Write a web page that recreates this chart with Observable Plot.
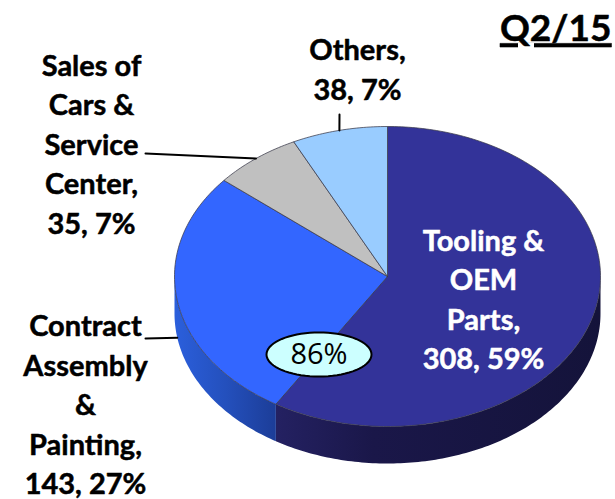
<!DOCTYPE html>
<html>
<head>
<meta charset="utf-8">
<script src="https://cdn.jsdelivr.net/npm/d3@7"></script>
<script src="https://cdn.jsdelivr.net/npm/@observablehq/plot@0.6"></script>
<style>
html,body{margin:0;padding:0;background:#fff}
svg{display:block}
.quarter text{text-decoration:underline;text-decoration-thickness:3px}
</style>
</head>
<body>
<div id="chart"></div>
<script>
const categories = ["Tooling &\nOEM\nParts", "Contract\nAssembly\n&\nPainting", "Sales of\nCars &\nService\nCenter", "Others"];
const values = [308, 143, 35, 38];
const shares = [59, 27, 7, 7];
const quarter = "Q2/15";
const insideShare = "86%";

const topColors = ["#333399", "#3366ff", "#c0c0c0", "#99ccff"];
const sideFills = ["url(#sideDark)", "url(#sideBlue)"];

// Layout: pie centre/radii in pixels, everything else in unit-ellipse coordinates
const W = 615, H = 499;
const cx = 387, cy = 276, rx = 213, ry = 150, depthPx = 37;
const depth = depthPx / ry;
const ux = px => (px - cx) / rx;
const uy = py => (cy - py) / ry;
const onRim = (a, drop = 0) => ({x: Math.sin(a), y: Math.cos(a) - drop});

const arcs = d3.pie().sort(null).value(d => d)(values);
const arcPts = (a0, a1, drop = 0) => {
  const n = Math.max(2, Math.ceil((a1 - a0) * 60));
  return d3.range(n + 1).map(i => onRim(a0 + (a1 - a0) * i / n, drop));
};
const wedge = arcs.map(a => {
  const pts = [{x: 0, y: 0}, ...arcPts(a.startAngle, a.endAngle), {x: 0, y: 0}];
  return pts;
});
const sideWalls = arcs.map(a => {
  const a0 = Math.max(a.startAngle, Math.PI / 2), a1 = Math.min(a.endAngle, 3 * Math.PI / 2);
  if (a1 <= a0) return null;
  const t = arcPts(a0, a1), b = arcPts(a0, a1, depth).reverse();
  return [...t, ...b, t[0]];
}).filter(Boolean);

const mid = arcs.map(a => (a.startAngle + a.endAngle) / 2);
const leaders = [
  [{x: ux(145), y: uy(338)}, onRim(mid[1], depth)],
  [{x: ux(145), y: uy(153)}, onRim(mid[2])],
  [{x: ux(339), y: uy(114)}, onRim(mid[3])]
];

const labelText = categories.map((c, i) => `${c},\n${values[i]}, ${shares[i]}%`);
const labelPlace = [[483, 297], [85, 402], [91, 141.5], [357, 67]];
const labels = labelText.map((text, i) => ({
  text, x: ux(labelPlace[i][0]), y: uy(labelPlace[i][1]), color: i === 0 ? "#ffffff" : "#000000"
}));

// the 86% callout: an ellipse, centred on the boundary of the two large slices
const badge = {x: ux(318.5), y: uy(354), rx: 52.5 / rx, ry: 22 / ry};
const badgePts = d3.range(73).map(i => {
  const t = i / 72 * 2 * Math.PI;
  return {x: badge.x + badge.rx * Math.cos(t), y: badge.y + badge.ry * Math.sin(t)};
});

const defs = () => {
  const svg = d3.create("svg:defs");
  const grad = (id, stops) => {
    const g = svg.append("linearGradient").attr("id", id).attr("x1", 0).attr("x2", 1).attr("y1", 0).attr("y2", 0);
    stops.forEach(([o, c]) => g.append("stop").attr("offset", o).attr("stop-color", c));
  };
  grad("sideDark", [[0, "#242162"], [0.3, "#1a1749"], [1, "#14133a"]]);
  grad("sideBlue", [[0, "#2b5fdc"], [0.5, "#2450bd"], [1, "#1c3d98"]]);
  return svg.node();
};

const edge = {stroke: "#3a3a4a", strokeWidth: 1, strokeOpacity: 0.75};
const font = {fontFamily: "Lato, Carlito, sans-serif"};

const chart = Plot.plot({
  width: W, height: H,
  marginTop: 0, marginRight: 0, marginBottom: 0, marginLeft: 0,
  x: {domain: [-1, 1], range: [cx - rx, cx + rx], axis: null},
  y: {domain: [1, -1], range: [cy - ry, cy + ry], axis: null},
  style: {background: "#fff"},
  marks: [
    defs,
    ...sideWalls.map((pts, i) => Plot.line(pts, {x: "x", y: "y", fill: sideFills[i], stroke: "none"})),
    ...wedge.map((pts, i) => Plot.line(pts, {x: "x", y: "y", fill: topColors[i], ...edge})),
    ...leaders.map(pts => Plot.line(pts, {x: "x", y: "y", stroke: "#000", strokeWidth: 2})),
    Plot.line(badgePts, {x: "x", y: "y", fill: "#ccffff", stroke: "#000", strokeWidth: 2}),
    Plot.text([insideShare], {x: badge.x, y: badge.y, text: d => d, fontSize: 29, fill: "#000", fontFamily: "Open Sans, sans-serif", fontWeight: 400}),
    Plot.text(labels, {x: "x", y: "y", text: "text", fill: "color", stroke: "color", strokeWidth: 0.5, fontSize: 29, lineHeight: 1.36, fontWeight: 700, ...font}),
    Plot.text([quarter], {x: ux(611), y: uy(29), text: d => d, textAnchor: "end", fontSize: 37, fontWeight: 700, fill: "#000", stroke: "#000", strokeWidth: 0.5, className: "quarter", ...font})
  ]
});
document.getElementById("chart").append(chart);
</script>
</body>
</html>
